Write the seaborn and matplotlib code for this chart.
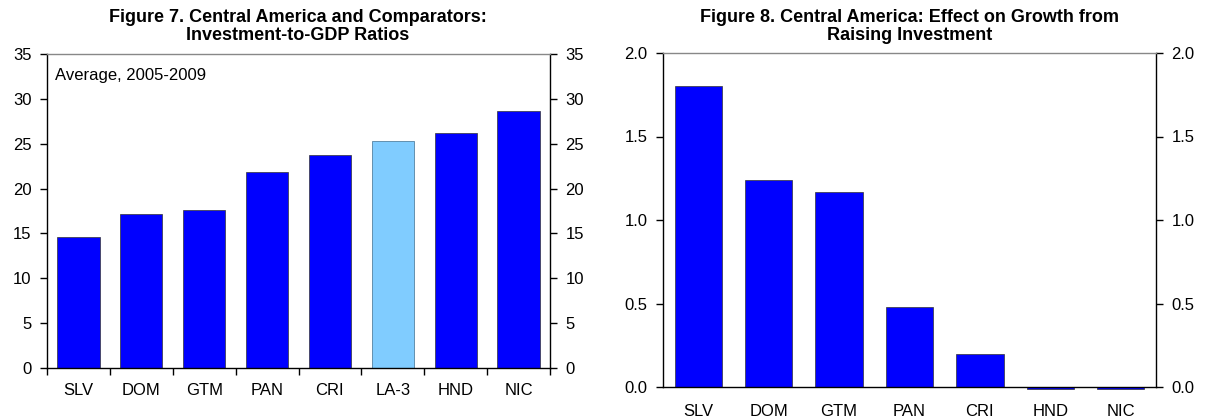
import numpy as np
import pandas as pd
import seaborn as sns
import matplotlib.pyplot as plt

# Figure 7 data
fig7_countries = ['SLV', 'DOM', 'GTM', 'PAN', 'CRI', 'LA-3', 'HND', 'NIC']
fig7_ratios = [14.6, 17.2, 17.6, 21.8, 23.7, 25.3, 26.2, 28.6]

# Figure 8 data
fig8_countries = ['SLV', 'DOM', 'GTM', 'PAN', 'CRI', 'HND', 'NIC']
fig8_growth = [1.80, 1.24, 1.17, 0.48, 0.20, -0.01, -0.01]

BLUE = '#0000FF'
LIGHT = '#80CCFF'
FS = 12

sns.set_style('ticks')
plt.rcParams['font.family'] = ['Liberation Sans', 'DejaVu Sans']
plt.rcParams['font.size'] = FS
plt.rcParams['text.color'] = 'black'
plt.rcParams['xtick.color'] = 'black'
plt.rcParams['ytick.color'] = 'black'

fig = plt.figure(figsize=(12.05, 4.2), dpi=100)
ax1 = fig.add_axes([47 / 1205, 52 / 420, 503 / 1205, 314 / 420])
ax2 = fig.add_axes([663 / 1205, 33 / 420, 493 / 1205, 334 / 420])


def style_axes(ax):
    for side in ['left', 'right', 'bottom']:
        ax.spines[side].set_color('black')
        ax.spines[side].set_linewidth(1.0)
        ax.spines[side].set_visible(True)
    ax.spines['top'].set_color('#888888')
    ax.spines['top'].set_linewidth(1.0)
    ax.spines['top'].set_visible(True)
    ax.tick_params(axis='y', left=True, right=True, labelleft=True, labelright=True,
                   direction='out', length=5, width=1, pad=6, labelsize=FS, colors='black')
    ax.set_xlabel('')
    ax.set_ylabel('')


# --- Figure 7 ---
df7 = pd.DataFrame({'country': fig7_countries, 'ratio': fig7_ratios})
pal7 = {c: (LIGHT if c == 'LA-3' else BLUE) for c in fig7_countries}
sns.barplot(data=df7, x='country', y='ratio', hue='country', palette=pal7,
            legend=False, width=0.67, saturation=1, ax=ax1)
for bar, c in zip(ax1.patches, fig7_countries):
    bar.set_edgecolor('#3f6f8f' if c == 'LA-3' else '#333333')
    bar.set_linewidth(0.5)
ax1.set_ylim(0, 35)
ax1.set_yticks(range(0, 36, 5))
ax1.set_xlim(-0.5, len(fig7_countries) - 0.5)
style_axes(ax1)
ax1.set_xticks(np.arange(len(fig7_countries) + 1) - 0.5, minor=True)
ax1.tick_params(axis='x', which='major', length=0, pad=11, labelsize=FS, colors='black')
ax1.tick_params(axis='x', which='minor', length=5, width=1, direction='out', colors='black')
ax1.text(0.015, 0.955, 'Average, 2005-2009', transform=ax1.transAxes,
         ha='left', va='top', fontsize=FS)

# --- Figure 8 ---
df8 = pd.DataFrame({'country': fig8_countries, 'growth': fig8_growth})
sns.barplot(data=df8, x='country', y='growth', color=BLUE, width=0.67,
            saturation=1, ax=ax2)
for bar in ax2.patches:
    bar.set_edgecolor('#333333')
    bar.set_linewidth(0.5)
    bar.set_clip_on(False)
ax2.set_ylim(0, 2.0)
ax2.set_yticks(np.arange(0, 2.01, 0.5))
ax2.set_yticklabels([f'{v:.1f}' for v in np.arange(0, 2.01, 0.5)])
ax2.set_xlim(-0.5, len(fig8_countries) - 0.5)
style_axes(ax2)
ax2.tick_params(axis='x', length=0, pad=12, labelsize=FS, colors='black')

# titles
title_kw = dict(ha='center', va='top', fontsize=13, fontweight='bold',
                linespacing=1.1, color='black')
fig.text(298 / 1205, 1 - 9 / 420,
         'Figure 7. Central America and Comparators:\nInvestment-to-GDP Ratios', **title_kw)
fig.text(910 / 1205, 1 - 9 / 420,
         'Figure 8. Central America: Effect on Growth from\nRaising Investment', **title_kw)

fig.savefig('out.png', dpi=100)
